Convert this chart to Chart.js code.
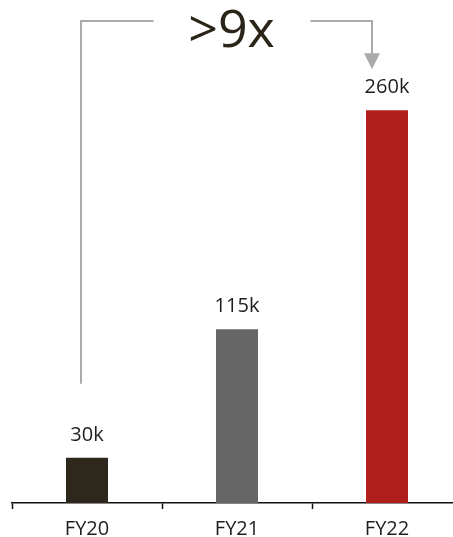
<!DOCTYPE html>
<html>
<head>
<meta charset="utf-8">
<script src="https://cdn.jsdelivr.net/npm/chart.js@4/dist/chart.umd.min.js"></script>
<style>
  html, body { margin: 0; padding: 0; background: #fff; overflow: hidden; }
  #wrap { width: 462px; height: 549px; }
</style>
</head>
<body>
<div id="wrap"><canvas id="barChart"></canvas></div>
<script>
// Datos del gráfico
const years = ["FY20", "FY21", "FY22"];
const values = [30, 115, 260];
const valueLabels = ["30k", "115k", "260k"];
const barColors = ["#2e271b", "#666666", "#b01f1b"];
const growthLabel = ">9x";

const FONT = "'Open Sans', 'Noto Sans', sans-serif";

// Etiquetas de valor encima de cada barra
const valueLabelPlugin = {
    id: "valueLabels",
    afterDatasetsDraw(chart) {
        const ctx = chart.ctx;
        const meta = chart.getDatasetMeta(0);
        ctx.save();
        ctx.font = "20px " + FONT;
        ctx.fillStyle = "#1e1e1e";
        ctx.textAlign = "center";
        ctx.textBaseline = "alphabetic";
        meta.data.forEach((bar, i) => {
            ctx.fillText(valueLabels[i], bar.x, bar.y - 17);
        });
        ctx.restore();
    }
};

// Corchete con flecha desde FY20 hasta FY22
const growthPlugin = {
    id: "growthBracket",
    afterDraw(chart) {
        const ctx = chart.ctx;
        const meta = chart.getDatasetMeta(0);
        const first = meta.data[0];
        const last = meta.data[meta.data.length - 1];
        const xL = first.x - 6;
        const xR = last.x - 15;
        const yTop = 21;
        const yStart = first.y - 74;
        const yArrow = last.y - 41;
        const xMid = (xL + xR) / 2 + 5;

        ctx.save();
        ctx.strokeStyle = "#aaaaaa";
        ctx.lineWidth = 2;
        ctx.beginPath();
        ctx.moveTo(xL, yStart);
        ctx.lineTo(xL, yTop);
        ctx.lineTo(xMid - 78, yTop);
        ctx.moveTo(xMid + 79, yTop);
        ctx.lineTo(xR, yTop);
        ctx.lineTo(xR, yArrow - 14);
        ctx.stroke();

        ctx.fillStyle = "#aaaaaa";
        ctx.beginPath();
        ctx.moveTo(xR - 8, yArrow - 16);
        ctx.lineTo(xR + 8, yArrow - 16);
        ctx.lineTo(xR, yArrow);
        ctx.closePath();
        ctx.fill();

        ctx.font = "52px " + FONT;
        ctx.fillStyle = "#2b2418";
        ctx.textAlign = "center";
        ctx.textBaseline = "alphabetic";
        ctx.fillText(growthLabel, xMid, 47);
        ctx.restore();
    }
};

function initChart() {
    const ctx = document.getElementById("barChart").getContext("2d");
    new Chart(ctx, {
        type: "bar",
        data: {
            labels: years,
            datasets: [{
                data: values,
                backgroundColor: barColors,
                borderWidth: 0,
                barPercentage: 0.28,
                categoryPercentage: 1
            }]
        },
        options: {
            responsive: true,
            maintainAspectRatio: false,
            animation: false,
            layout: { padding: { left: 12, right: 0, top: 80, bottom: 0 } },
            plugins: { legend: { display: false }, tooltip: { enabled: false } },
            scales: {
                x: {
                    offset: true,
                    grid: {
                        display: true,
                        drawOnChartArea: false,
                        drawTicks: true,
                        tickLength: 6,
                        tickWidth: 1.5,
                        color: "#111",
                        offset: true
                    },
                    border: { display: true, color: "#111", width: 1.5 },
                    ticks: {
                        color: "#1e1e1e",
                        font: { family: FONT, size: 20 },
                        padding: 8
                    }
                },
                y: {
                    display: false,
                    min: 0,
                    max: 280
                }
            }
        },
        plugins: [valueLabelPlugin, growthPlugin]
    });
}

document.addEventListener("DOMContentLoaded", initChart);
</script>
</body>
</html>
